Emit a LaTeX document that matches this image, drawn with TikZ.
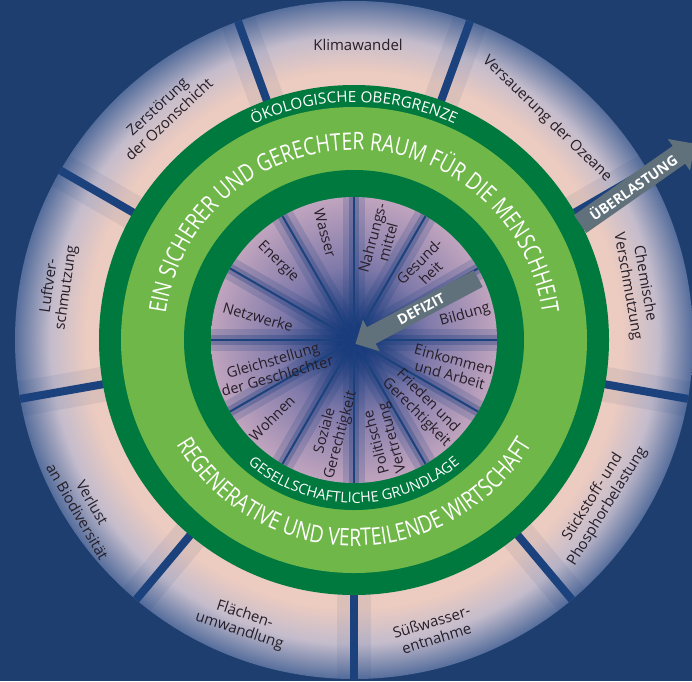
\documentclass[tikz,border=0pt]{standalone}
\usepackage{fontspec}
\setmainfont{Open Sans}
\newfontfamily\ringfont[FakeStretch=0.8]{Open Sans}
\usetikzlibrary{decorations.text,shapes.arrows}

\definecolor{bgblue}{RGB}{30,62,112}
\definecolor{sepblue}{RGB}{28,66,126}
\definecolor{darkgreen}{RGB}{0,121,62}
\definecolor{lightgreen}{RGB}{110,183,72}
\definecolor{ringpink}{RGB}{236,203,192}
\definecolor{ringgray}{RGB}{196,188,204}
\definecolor{ringblue}{RGB}{86,110,156}
\definecolor{diskblue}{RGB}{26,60,124}
\definecolor{disklilac}{RGB}{128,122,170}
\definecolor{diskpink}{RGB}{192,164,190}
\definecolor{arrowgray}{RGB}{96,113,123}
\definecolor{labeltext}{RGB}{38,30,40}

\pgfdeclareradialshading{boundaryshade}{\pgfpoint{0bp}{0bp}}{%
  color(0bp)=(ringpink); color(19.8bp)=(ringpink); color(22.4bp)=(ringgray);
  color(25bp)=(ringblue); color(50bp)=(ringblue)}
\pgfdeclareradialshading{foundationshade}{\pgfpoint{0bp}{0bp}}{%
  color(0bp)=(diskblue); color(2bp)=(diskblue); color(13bp)=(disklilac);
  color(25bp)=(diskpink); color(50bp)=(diskpink)}

\begin{document}
\begin{tikzpicture}[x=0.02cm, y=0.02cm,
    every node/.style={text=labeltext, align=center, inner sep=0pt},
    boundary/.style={font=\fontsize{8.5}{9.8}\selectfont},
    foundation/.style={font=\fontsize{8.3}{9.2}\selectfont},
    gapline/.style={sepblue, line width=0.16cm},
    spoke/.style={sepblue, line width=0.04cm},
    ringtext/.style={decorate, decoration={text along path, text align=center,
        text color=white, text={#1}}},
    bigarrow/.style={single arrow, fill=arrowgray, text=white,
        font=\bfseries\fontsize{8}{8}\selectfont, single arrow head extend=0.17cm,
        inner sep=0.08cm, minimum height=2.8cm},
  ]
  \useasboundingbox (-354,-341) rectangle (338,340);
  \fill[bgblue] (-354,-341) rectangle (338,340);

  \shade[shading=boundaryshade] (0,0) circle[radius=339];
  \begin{scope}
    \clip (0,0) circle[radius=339];
    \foreach \a in {-170,-130,...,150} {
      \draw[sepblue, line width=0.7cm, opacity=0.08] (\a:250) -- (\a:345);
      \draw[gapline] (\a:250) -- (\a:345);
    }
  \end{scope}

  \fill[darkgreen] (0,0) circle[radius=255];
  \fill[lightgreen] (0,0) circle[radius=233];
  \fill[darkgreen] (0,0) circle[radius=170];
  \shade[shading=foundationshade] (0,0) circle[radius=143];
  \begin{scope}
    \clip (0,0) circle[radius=143];
    \foreach \a in {0,30,...,330} {
      \draw[diskblue, line width=0.45cm, opacity=0.18] (0,0) -- (\a:150);
      \draw[diskblue, line width=0.2cm, opacity=0.3] (0,0) -- (\a:150);
      \draw[spoke] (0,0) -- (\a:150);
    }
  \end{scope}

  \path[ringtext={|\fontsize{8.7}{8.7}\selectfont|ÖKOLOGISCHE OBERGRENZE}]
    (180:238) arc[start angle=180, end angle=0, radius=238];
  \path[ringtext={|\ringfont\fontsize{13.7}{13.7}\selectfont|EIN SICHERER UND GERECHTER RAUM FÜR DIE MENSCHHEIT}]
    (180:190) arc[start angle=180, end angle=0, radius=190];
  \path[ringtext={|\ringfont\fontsize{13.7}{13.7}\selectfont|REGENERATIVE UND VERTEILENDE WIRTSCHAFT}]
    (180:206) arc[start angle=180, end angle=360, radius=206];
  \path[ringtext={|\fontsize{8.2}{8.2}\selectfont|GESELLSCHAFTLICHE GRUNDLAGE}]
    (180:163) arc[start angle=180, end angle=360, radius=163];

  \node[boundary] (klima) at (4,295) {Klimawandel};
  \node[boundary, rotate=-44] (ozean) at (193,221) {Versauerung der Ozeane};
  \node[boundary, rotate=-80] (chemie) at (282,55) {Chemische\\Verschmutzung};
  \node[boundary, rotate=58] (stickstoff) at (246,-162) {Stickstoff- und\\Phosphorbelastung};
  \node[boundary, rotate=17] (suesswasser) at (80,-290) {Süßwasser-\\entnahme};
  \node[boundary, rotate=-18] (flaeche) at (-112,-283) {Flächen-\\umwandlung};
  \node[boundary, rotate=-60] (biodiv) at (-269,-167) {Verlust\\an Biodiversität};
  \node[boundary, rotate=82] (luft) at (-296,53) {Luftver-\\schmutzung};
  \node[boundary, rotate=43] (ozon) at (-191,227) {Zerstörung\\der Ozonschicht};

  \node[foundation, rotate=-75] (wasser) at (-29,107) {Wasser};
  \node[foundation, rotate=75] (nahrung) at (26,100) {Nahrungs-\\mittel};
  \node[foundation, rotate=45] (gesundheit) at (71,73) {Gesund-\\heit};
  \node[foundation, rotate=16] (bildung) at (111,25) {Bildung};
  \node[foundation, rotate=-15] (einkommen) at (98,-27) {Einkommen\\und Arbeit};
  \node[foundation, rotate=-45] (frieden) at (68,-67) {Frieden und\\Gerechtigkeit};
  \node[foundation, rotate=105] (politik) at (31,-100) {Politische\\Vertretung};
  \node[foundation, rotate=75] (sozial) at (-21,-93) {Soziale\\Gerechtigkeit};
  \node[foundation, rotate=45] (wohnen) at (-82,-78) {Wohnen};
  \node[foundation, rotate=16] (gleich) at (-79,-28) {Gleichstellung\\der Geschlechter};
  \node[foundation, rotate=-16] (netz) at (-96,23) {Netzwerke};
  \node[foundation, rotate=-45] (energie) at (-76,78) {Energie};

  \node[bigarrow, rotate=35] (ueberlastung) at (279,153) {ÜBERLASTUNG};
  \node[bigarrow, shape border rotate=180, rotate=28, minimum height=2.78cm] (defizit) at (67,31) {DEFIZIT};
\end{tikzpicture}
\end{document}
